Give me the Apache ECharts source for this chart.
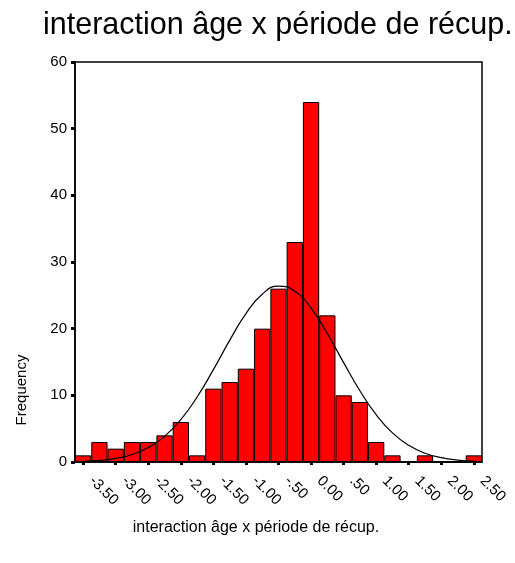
<!DOCTYPE html>
<html>
<head>
<meta charset="utf-8">
<script src="https://cdn.jsdelivr.net/npm/echarts@6/dist/echarts.min.js"></script>
<style>
  html, body { margin: 0; padding: 0; background: #fff; }
  #chart { width: 515px; height: 563px; }
</style>
</head>
<body>
<div id="chart"></div>
<script>
// bin centres (SPSS style labels), width 0.25
const binLabels = ['-3.50', '-3.25', '-3.00', '-2.75', '-2.50', '-2.25', '-2.00', '-1.75', '-1.50', '-1.25',
  '-1.00', '-.75', '-.50', '-.25', '0.00', '.25', '.50', '.75', '1.00', '1.25', '1.50', '1.75', '2.00', '2.25', '2.50']
const frequencies = [1, 3, 2, 3, 3, 4, 6, 1, 11, 12, 14, 20, 26, 33, 54, 22, 10, 9, 3, 1, 0, 1, 0, 0, 1]
// normal curve at each bin centre
const normalCurve = [0.1, 0.24, 0.54, 1.12, 2.16, 3.85, 6.36, 9.75, 13.85, 18.24, 22.26, 25.17, 26.39,
  25.63, 23.08, 19.27, 14.9, 10.68, 7.1, 4.37, 2.5, 1.32, 0.65, 0.29, 0.12]
const yTicks = [0, 10, 20, 30, 40, 50, 60]

const titleText = 'interaction âge x période de récup.'
const font = 'Liberation Sans, Arial, sans-serif'

const chart = echarts.init(document.getElementById('chart'))

const option = {
  animation: false,
  backgroundColor: '#fff',
  title: {
    text: titleText,
    left: 38,
    top: 5,
    textStyle: { fontFamily: font, fontSize: 30.5, fontWeight: 'normal', color: '#000' }
  },
  grid: {
    left: 75,
    right: 33,
    top: 62,
    bottom: 101,
    show: true,
    borderColor: '#000',
    borderWidth: 1.5,
    containLabel: false
  },
  xAxis: {
    type: 'category',
    data: binLabels,
    boundaryGap: true,
    axisLine: { show: true, lineStyle: { color: '#000', width: 1.5 } },
    axisTick: { show: true, interval: 1, alignWithLabel: true, length: 3, lineStyle: { color: '#000', width: 3 } },
    axisLabel: {
      interval: 1,
      rotate: -45,
      margin: 8,
      padding: [0, 0, 0, 12],
      fontFamily: font,
      fontSize: 15,
      color: '#000'
    },
    splitLine: { show: false }
  },
  yAxis: {
    type: 'value',
    min: yTicks[0],
    max: yTicks[yTicks.length - 1],
    interval: 10,
    axisLine: { show: true, lineStyle: { color: '#000', width: 1.5 } },
    axisTick: { show: true, length: 4, lineStyle: { color: '#000', width: 3 } },
    axisLabel: { margin: 8, fontFamily: font, fontSize: 15, color: '#000' },
    splitLine: { show: false }
  },
  series: [
    {
      type: 'bar',
      data: frequencies,
      barCategoryGap: '0%',
      itemStyle: { color: '#ff0000', borderColor: '#000', borderWidth: 1 },
      z: 2
    },
    {
      type: 'line',
      data: normalCurve,
      smooth: true,
      showSymbol: false,
      lineStyle: { color: '#000', width: 1.2 },
      z: 3
    }
  ],
  graphic: [
    {
      type: 'text',
      x: 22,
      y: 390,
      rotation: Math.PI / 2,
      style: {
        text: 'Frequency',
        fontFamily: font,
        fontSize: 15,
        fill: '#000',
        align: 'center',
        verticalAlign: 'middle'
      }
    },
    {
      type: 'text',
      x: 256,
      y: 528,
      style: {
        text: titleText,
        fontFamily: font,
        fontSize: 16,
        fill: '#000',
        align: 'center',
        verticalAlign: 'middle'
      }
    }
  ]
}

chart.setOption(option)
</script>
</body>
</html>
